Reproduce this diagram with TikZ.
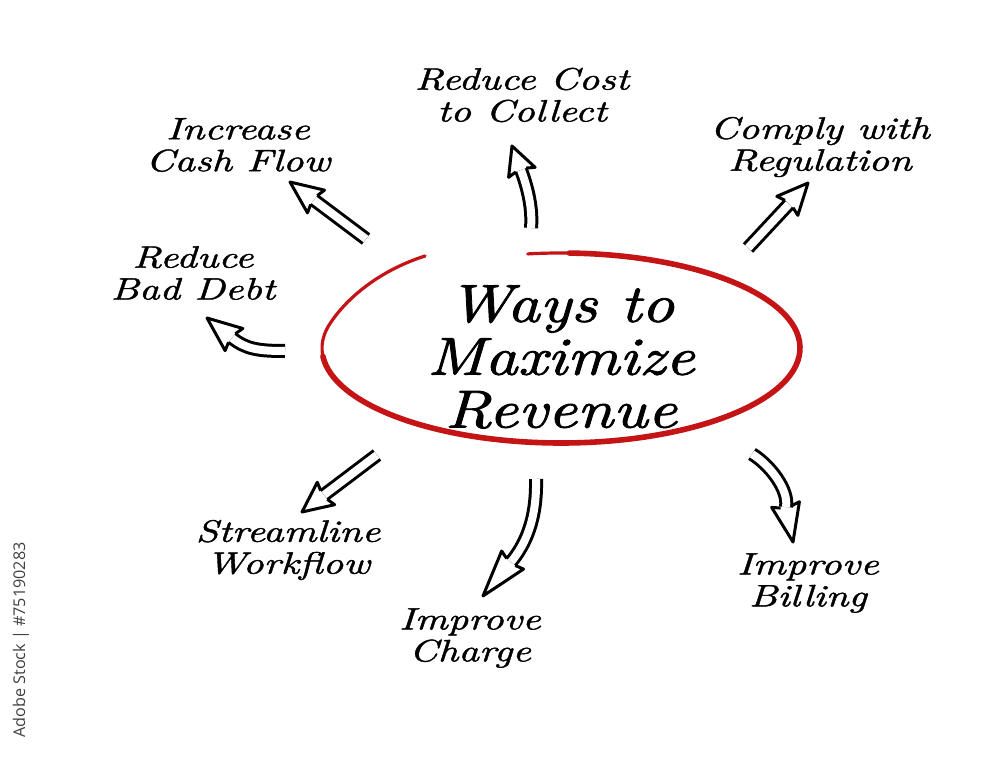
\documentclass[tikz,border=0pt]{standalone}
\usepackage{fontspec}
\usetikzlibrary{calc}
\newfontfamily\handfont{lmroman10-italic}[Extension=.otf,FakeStretch=1.2,FakeBold=1.5]
\newfontfamily\notefont{lmroman10-italic}[Extension=.otf,FakeStretch=1.3,FakeBold=1.3]
\newfontfamily\stockfont{Open Sans}
\definecolor{penred}{RGB}{196,20,22}
\tikzset{
  idea/.style={align=center,inner sep=0pt,font=\notefont\fontsize{22}{22.7}\selectfont},
  goal/.style={align=center,inner sep=0pt,font=\handfont\fontsize{38}{37.6}\selectfont},
  shaft/.style={double=white,double distance=2mm,line width=0.75mm},
  tiphead/.style={line width=0.75mm,line join=round},
}
\newcommand\hollowhead[2]{\draw[tiphead] ($(#1)!1.375mm!90:(#2)$) -- ($(#1)!3.6mm!100:(#2)$) -- (#2)
  -- ($(#1)!3.6mm!-100:(#2)$) -- ($(#1)!1.375mm!-90:(#2)$);}
\begin{document}
\begin{tikzpicture}[x=0.25mm,y=-0.25mm]
\useasboundingbox (0,0) rectangle (1000,760);
\node[goal] (ways) at (561,357) {Ways to\\Maximize\\Revenue};
\node[idea] (cost) at (522,95) {Reduce Cost\\to Collect};
\node[idea] (cash) at (238,145) {Increase\\Cash Flow};
\node[idea] (comply) at (820,147) {Comply with\\Regulation};
\node[idea] (debt) at (193,273) {Reduce\\Bad Debt};
\node[idea] (stream) at (288,550) {Streamline\\Workflow};
\node[idea] (charge) at (470,638) {Improve\\Charge};
\node[idea] (billing) at (808,583) {Improve\\Billing};
\node[rotate=90,text=black!75,font=\stockfont\fontsize{11.5}{12}\selectfont] (stock) at (21,640) {Adobe Stock | \#75190283};
\coordinate (ring) at (561,348);
\draw[penred,line width=0.8mm,line cap=round] ($(ring)+(262:239 and 95)$) arc[start angle=262,end angle=555,x radius=239,y radius=95]
  .. controls (344,302) and (375,272) .. (425,256);
\draw[penred,line width=1.4mm,line cap=round] ($(ring)+(272:239 and 95)$) arc[start angle=272,end angle=535,x radius=239,y radius=95];
\foreach \n/\tail/\base/\tip in {cash/{366,239}/{314,200}/{290,182}, cost/{531,228}/{521,170}/{512,146},
    comply/{748,248}/{789,204}/{808,183}, debt/{285,351}/{232,338}/{207,318},
    stream/{377,455}/{324,495}/{302,512}, charge/{536,479}/{511,562}/{483,596},
    billing/{752,454}/{786,507}/{793,542}} {
  \coordinate (\n-tail) at (\tail);
  \coordinate (\n-base) at (\base);
  \coordinate (\n-tip) at (\tip);
}
\foreach \n in {cash,comply,stream}
  \draw[shaft] (\n-tail) -- (\n-base);
\draw[shaft] (cost-tail) .. controls (533,205) and (525.5,182) .. (cost-base);
\draw[shaft] (debt-tail) .. controls (258,351) and (246,349) .. (debt-base);
\draw[shaft] (charge-tail) .. controls (537,520) and (525,545) .. (charge-base);
\draw[shaft] (billing-tail) .. controls (770,465) and (789,490) .. (billing-base);
\foreach \n in {cash,cost,comply,debt,stream,charge,billing} {
  \hollowhead{\n-base}{\n-tip}
}
\end{tikzpicture}
\end{document}
